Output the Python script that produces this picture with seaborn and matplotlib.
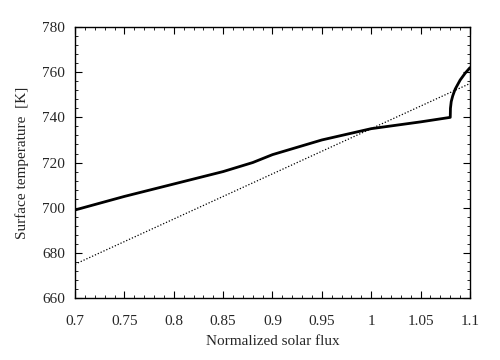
import matplotlib
matplotlib.use("Agg")
import matplotlib.pyplot as plt
from matplotlib.ticker import MultipleLocator
import seaborn as sns
import pandas as pd

# Solid curve: model surface temperature (with jump near 1.08)
flux_model = [0.70, 0.75, 0.80, 0.85, 0.88, 0.90, 0.95, 1.00, 1.05, 1.08,
              1.0802, 1.081, 1.0825, 1.085, 1.09, 1.095, 1.10]
temp_model = [699, 705, 710.5, 716, 720, 723.5, 730, 735, 738, 740,
              744, 747, 749.5, 752.5, 756.5, 759.5, 762]

# Dotted line: simple linear response
flux_lin = [0.70, 1.10]
temp_lin = [675, 755]

sns.set_style("ticks")
plt.rcParams["font.family"] = ["Liberation Serif", "DejaVu Serif"]

fig = plt.figure(figsize=(5, 3.6), dpi=100)
ax = fig.add_axes([0.15, 0.172, 0.79, 0.753])

model = pd.DataFrame({"flux": flux_model, "temp": temp_model})
lin = pd.DataFrame({"flux": flux_lin, "temp": temp_lin})

sns.lineplot(data=model, x="flux", y="temp", ax=ax, color="black",
             linewidth=2.0, sort=False)
sns.lineplot(data=lin, x="flux", y="temp", ax=ax, color="black",
             linewidth=0.9, linestyle=(0, (1, 1.5)))

ax.set_xlim(0.7, 1.1)
ax.set_ylim(660, 780)
ax.xaxis.set_minor_locator(MultipleLocator(0.01))
ax.yaxis.set_major_locator(MultipleLocator(20))
ax.yaxis.set_minor_locator(MultipleLocator(4))
ax.set_xticks([0.7, 0.75, 0.8, 0.85, 0.9, 0.95, 1.0, 1.05, 1.1])
ax.set_xticklabels(["0.7", "0.75", "0.8", "0.85", "0.9", "0.95", "1", "1.05", "1.1"])

ax.tick_params(which="both", direction="in", top=True, right=True,
               labelsize=11, color="black")
ax.tick_params(which="major", length=5, width=0.8)
ax.tick_params(axis="x", which="major", pad=12)
ax.tick_params(axis="y", which="major", pad=7)
ax.tick_params(which="minor", length=2.5, width=0.6)
for s in ax.spines.values():
    s.set_linewidth(1.0)
    s.set_color("black")

ax.set_xlabel("Normalized solar flux", fontsize=11, labelpad=5)
ax.set_ylabel("Surface temperature  [K]", fontsize=11, labelpad=10)

fig.savefig("out.png", dpi=100)
